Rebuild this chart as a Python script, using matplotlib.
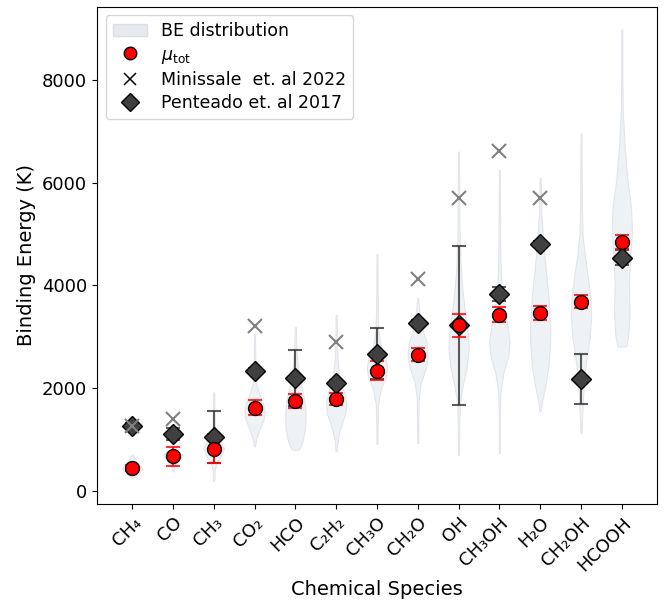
import numpy as np
import matplotlib.pyplot as plt
from matplotlib.lines import Line2D
from matplotlib.patches import Patch

species = ['CH₄', 'CO', 'CH₃', 'CO₂', 'HCO', 'C₂H₂', 'CH₃O', 'CH₂O', 'OH',
           'CH₃OH', 'H₂O', 'CH₂OH', 'HCOOH']

# mu_tot and its error
mu_tot = [442, 668, 817, 1615, 1745, 1785, 2336, 2647, 3218, 3432, 3465, 3685, 4841]
mu_err = [60, 180, 280, 145, 130, 115, 185, 130, 230, 140, 140, 130, 135]

# Minissale et al 2022 (nan = not available)
minissale = [1250, 1400, np.nan, 3200, np.nan, 2890, np.nan, 4120, 5700, 6620, 5700,
             np.nan, np.nan]

# Penteado et al 2017
penteado = [1260, 1100, 1045, 2336, 2186, 2096, 2667, 3270, 3218, 3829, 4802, 2174, 4541]
penteado_err = [60, 120, 500, 60, 545, 60, 500, 60, 1550, 135, 60, 495, 150]

# BE distribution profiles: energies (K) and relative half widths
be_vals = [
    [250, 330, 420, 500, 580, 700],
    [376, 520, 620, 700, 760, 837],
    [195, 400, 550, 700, 830, 950, 1050, 1200, 1500, 1914],
    [863, 1000, 1200, 1400, 1550, 1700, 1900, 2100, 2400, 2800, 3056],
    [798, 850, 1000, 1200, 1500, 1800, 2100, 2400, 2700, 3000, 3186],
    [766, 900, 1100, 1300, 1500, 1700, 1900, 2100, 2300, 2600, 3000, 3425],
    [915, 1300, 1700, 2000, 2200, 2400, 2600, 2800, 3100, 3500, 4000, 4613],
    [928, 1400, 1800, 2100, 2400, 2650, 2900, 3100, 3300, 3500, 3750],
    [700, 1200, 1700, 2000, 2400, 2800, 3200, 3600, 4000, 4400, 5000, 5800, 6605],
    [733, 1400, 1900, 2300, 2600, 2900, 3200, 3500, 3800, 4200, 4800, 5500, 6248],
    [1545, 1700, 1850, 2100, 2400, 2800, 3100, 3500, 3800, 4200, 4600, 5000, 5400, 5800, 6087],
    [1122, 1400, 1800, 2200, 2600, 3000, 3400, 3800, 4200, 4600, 5000, 5600, 6300, 6962],
    [2810, 3070, 3460, 4050, 4500, 5020, 5530, 6050, 6640, 7350, 8000, 8985],
]
be_width = [
    [0.08, 0.5, 1.0, 0.8, 0.4, 0.06],
    [0.08, 0.2, 0.7, 1.0, 0.5, 0.08],
    [0.06, 0.1, 0.3, 0.8, 1.0, 0.7, 0.25, 0.1, 0.07, 0.05],
    [0.06, 0.15, 0.5, 0.9, 1.0, 0.85, 0.45, 0.15, 0.08, 0.06, 0.05],
    [0.3, 0.5, 0.75, 0.95, 1.0, 0.85, 0.5, 0.25, 0.12, 0.08, 0.05],
    [0.05, 0.1, 0.25, 0.55, 0.9, 1.0, 0.8, 0.45, 0.25, 0.12, 0.07, 0.05],
    [0.05, 0.06, 0.12, 0.4, 0.85, 1.0, 0.8, 0.4, 0.15, 0.08, 0.06, 0.05],
    [0.05, 0.06, 0.1, 0.3, 0.8, 1.0, 0.85, 0.5, 0.3, 0.15, 0.05],
    [0.05, 0.07, 0.12, 0.35, 0.8, 1.0, 0.85, 0.55, 0.35, 0.2, 0.1, 0.07, 0.05],
    [0.05, 0.05, 0.1, 0.4, 0.85, 1.0, 0.8, 0.5, 0.3, 0.15, 0.08, 0.06, 0.05],
    [0.05, 0.15, 0.3, 0.55, 0.8, 0.95, 1.0, 0.9, 0.8, 0.6, 0.4, 0.25, 0.12, 0.07, 0.05],
    [0.05, 0.1, 0.2, 0.3, 0.55, 0.85, 1.0, 0.9, 0.65, 0.35, 0.15, 0.08, 0.06, 0.04],
    [0.45, 0.65, 0.75, 0.7, 0.8, 1.0, 0.9, 0.55, 0.3, 0.1, 0.06, 0.04],
]

fig = plt.figure(figsize=(6.64, 6.02), dpi=100)
ax = fig.add_axes([0.1461, 0.1628, 0.8438, 0.8261])

x = np.arange(len(species))
violin_face = '#eff2f5'
violin_edge = '#e2e5e9'
for i in range(len(species)):
    v = np.array(be_vals[i])
    w = np.array(be_width[i]) * 0.25
    ax.fill_betweenx(v, i - w, i + w, facecolor=violin_face, edgecolor=violin_edge,
                     linewidth=0.8, zorder=1)

ax.errorbar(x, penteado, yerr=penteado_err, fmt='none', ecolor='#333333', alpha=0.8,
            elinewidth=1.5, capsize=5, capthick=1.5, zorder=2)
ax.errorbar(x, mu_tot, yerr=mu_err, fmt='none', ecolor='red', alpha=0.8,
            elinewidth=1.5, capsize=5, capthick=1.5, zorder=3)
ax.plot(x, penteado, 'D', color='#404040', mec='black', ms=10, mew=1, zorder=4)
ax.plot(x, minissale, 'x', color='gray', ms=10, mew=1.5, zorder=5)
ax.plot(x, mu_tot, 'o', color='red', mec='black', ms=10, mew=1, zorder=6)

ax.set_xticks(x)
ax.set_xticklabels(species, rotation=45, ha='right', rotation_mode='anchor', fontsize=13)
ax.tick_params(axis='y', labelsize=13)
ax.set_xlim(-0.86, 12.87)
ax.set_ylim(-260, 9430)
ax.set_yticks([0, 2000, 4000, 6000, 8000])
ax.set_xlabel('Chemical Species', fontsize=14)
ax.set_ylabel('Binding Energy (K)', fontsize=14)

handles = [
    Patch(facecolor='#e6e9ee', edgecolor='#dde0e5', label='BE distribution'),
    Line2D([], [], ls='none', marker='o', color='red', mec='black', ms=9,
           label=r'$\mu_{\rm tot}$'),
    Line2D([], [], ls='none', marker='x', color='black', ms=9, mew=1.1,
           label='Minissale  et. al 2022'),
    Line2D([], [], ls='none', marker='D', color='#404040', mec='black', ms=9,
           label='Penteado et. al 2017'),
]
ax.legend(handles=handles, loc='upper left', fontsize=12.5, labelspacing=0.3,
          borderaxespad=0.5)

fig.savefig('out.png', dpi=100)
